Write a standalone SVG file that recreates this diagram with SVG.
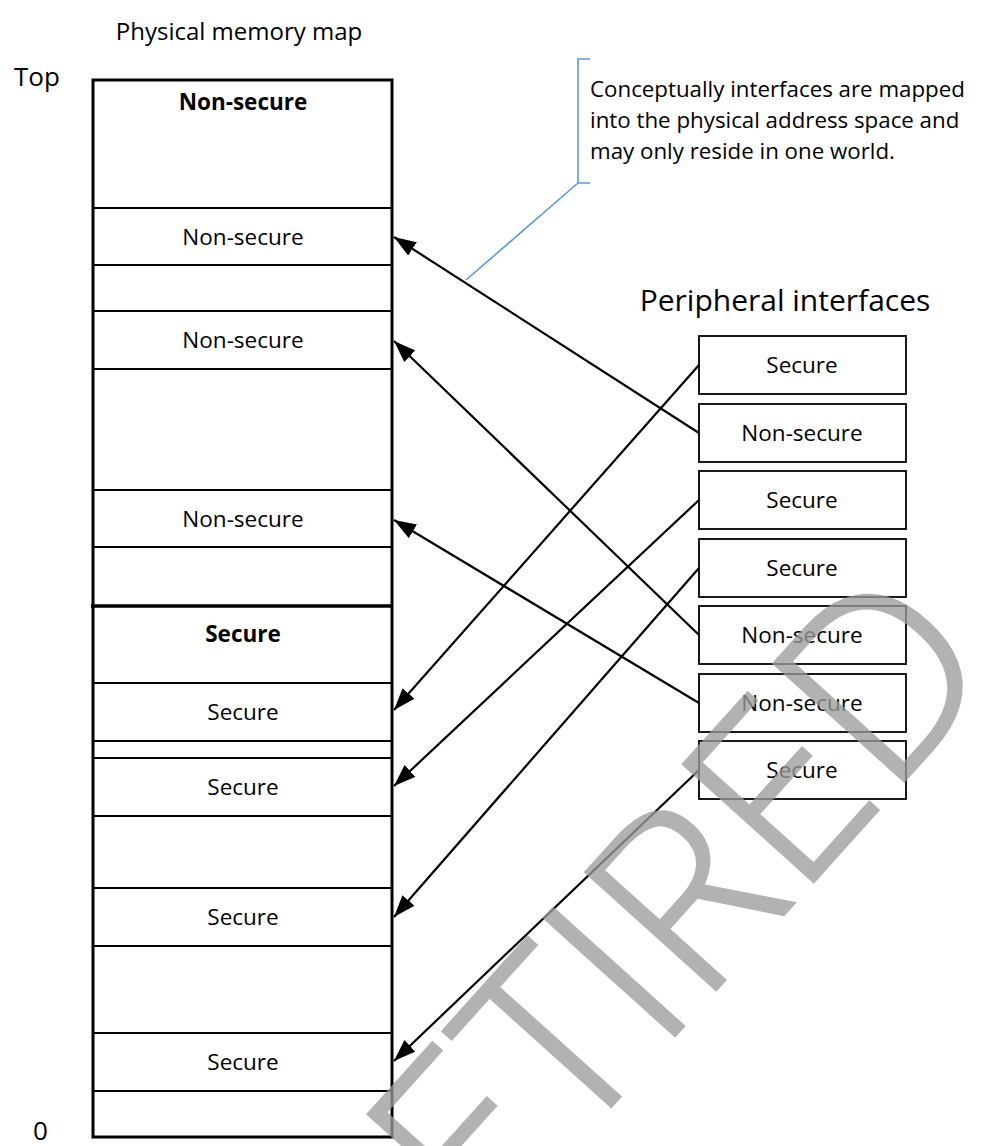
<svg xmlns="http://www.w3.org/2000/svg" width="981" height="1146" viewBox="0 0 981 1146">
  <style>
    text { font-family: "Open Sans", "Liberation Sans", sans-serif; fill: #000; }
    .lbl { font-size: 22.5px; text-anchor: middle; }
    .bold { font-weight: bold; }
    .title { text-anchor: middle; }
    .side { font-size: 26px; }
    .note { font-size: 22.3px; }
    .frame { fill: #fff; stroke: #000; stroke-width: 3; }
    .row { stroke: #000; stroke-width: 2; }
    .split { stroke: #000; stroke-width: 3.5; }
    .pbox { fill: #fff; stroke: #000; stroke-width: 1.8; }
    .conn { stroke: #000; stroke-width: 2.2; fill: none; marker-end: url(#head); }
    .callout { stroke: #5B9BD5; stroke-width: 1.6; fill: none; }
    .stamp { font-family: "Open Sans", "Lato", "Liberation Sans", sans-serif; font-weight: 300; font-size: 245px; fill: #9c9c9c; stroke: #9c9c9c; stroke-width: 3.5; stroke-linejoin: miter; opacity: 0.77; text-anchor: middle; }
  </style>
  <defs>
    <marker id="head" markerUnits="userSpaceOnUse" markerWidth="23" markerHeight="17" refX="22" refY="8" orient="auto">
      <path d="M0,0 L22,8 L0,16 Z" fill="#000"/>
    </marker>
  </defs>

  <rect width="981" height="1146" fill="#fff"/>

  <!-- column headings -->
  <text class="title" x="239" y="40" font-size="24">Physical memory map</text>
  <text class="title" x="785" y="311" font-size="30">Peripheral interfaces</text>
  <text class="side" x="14" y="86">Top</text>
  <text class="side" x="33" y="1140">0</text>

  <!-- physical memory map -->
  <g id="memory-map">
    <rect class="frame" x="93" y="80" width="299" height="1057"/>
    <line class="row" x1="93" y1="208" x2="392" y2="208"/>
    <line class="row" x1="93" y1="265" x2="392" y2="265"/>
    <line class="row" x1="93" y1="311" x2="392" y2="311"/>
    <line class="row" x1="93" y1="369" x2="392" y2="369"/>
    <line class="row" x1="93" y1="490" x2="392" y2="490"/>
    <line class="row" x1="93" y1="547" x2="392" y2="547"/>
    <line class="split" x1="91" y1="606" x2="392" y2="606"/>
    <line class="row" x1="93" y1="683" x2="392" y2="683"/>
    <line class="row" x1="93" y1="741" x2="392" y2="741"/>
    <line class="row" x1="93" y1="758" x2="392" y2="758"/>
    <line class="row" x1="93" y1="816" x2="392" y2="816"/>
    <line class="row" x1="93" y1="888" x2="392" y2="888"/>
    <line class="row" x1="93" y1="946" x2="392" y2="946"/>
    <line class="row" x1="93" y1="1033" x2="392" y2="1033"/>
    <line class="row" x1="93" y1="1091" x2="392" y2="1091"/>
  </g>
  <g id="mem-ns-world"><text class="lbl bold" x="243" y="110">Non-secure</text></g>
  <g id="mem-ns-1"><text class="lbl" x="243" y="245">Non-secure</text></g>
  <g id="mem-ns-2"><text class="lbl" x="243" y="348">Non-secure</text></g>
  <g id="mem-ns-3"><text class="lbl" x="243" y="527">Non-secure</text></g>
  <g id="mem-s-world"><text class="lbl bold" x="243" y="642">Secure</text></g>
  <g id="mem-s-1"><text class="lbl" x="243" y="720">Secure</text></g>
  <g id="mem-s-2"><text class="lbl" x="243" y="795">Secure</text></g>
  <g id="mem-s-3"><text class="lbl" x="243" y="925">Secure</text></g>
  <g id="mem-s-4"><text class="lbl" x="243" y="1070">Secure</text></g>

  <!-- peripheral interfaces -->
  <g id="periph-1"><rect class="pbox" x="699" y="336" width="207" height="58"/><text class="lbl" x="802" y="373">Secure</text></g>
  <g id="periph-2"><rect class="pbox" x="699" y="404" width="207" height="58"/><text class="lbl" x="802" y="441">Non-secure</text></g>
  <g id="periph-3"><rect class="pbox" x="699" y="471" width="207" height="58"/><text class="lbl" x="802" y="508">Secure</text></g>
  <g id="periph-4"><rect class="pbox" x="699" y="539" width="207" height="58"/><text class="lbl" x="802" y="576">Secure</text></g>
  <g id="periph-5"><rect class="pbox" x="699" y="606" width="207" height="58"/><text class="lbl" x="802" y="643">Non-secure</text></g>
  <g id="periph-6"><rect class="pbox" x="699" y="674" width="207" height="58"/><text class="lbl" x="802" y="711">Non-secure</text></g>
  <g id="periph-7"><rect class="pbox" x="699" y="741" width="207" height="58"/><text class="lbl" x="802" y="778">Secure</text></g>

  <!-- mappings from interfaces into the address space -->
  <g id="connectors">
    <line class="conn" x1="699" y1="365" x2="394" y2="710"/>
    <line class="conn" x1="699" y1="433" x2="394" y2="237"/>
    <line class="conn" x1="699" y1="500" x2="394" y2="786"/>
    <line class="conn" x1="699" y1="568" x2="394" y2="917"/>
    <line class="conn" x1="699" y1="635" x2="394" y2="341"/>
    <line class="conn" x1="699" y1="703" x2="394" y2="520"/>
    <line class="conn" x1="699" y1="770" x2="394" y2="1061"/>
  </g>

  <!-- bracket callout -->
  <g id="note">
    <path class="callout" d="M590,59 H578 V183 H590 M578,183 L466,280"/>
    <text class="note" x="590" y="97">Conceptually interfaces are mapped</text>
    <text class="note" x="590" y="128">into the physical address space and</text>
    <text class="note" x="590" y="159">may only reside in one world.</text>
  </g>

  <!-- status stamp -->
  <text class="stamp" transform="translate(694,1014) rotate(-48)">RETIRED</text>
</svg>
